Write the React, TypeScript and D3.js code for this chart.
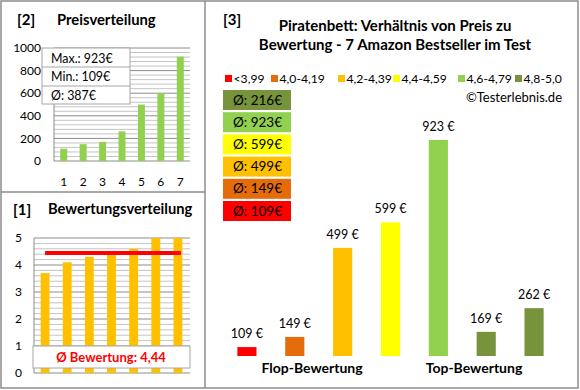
import * as React from 'react';
import * as d3 from 'd3';

// [2] Preisverteilung
const priceIdx = ['1', '2', '3', '4', '5', '6', '7'];
const prices = [109, 149, 169, 262, 499, 599, 923];
const priceTicks = [0, 200, 400, 600, 800, 1000];
const priceStats = ['Max.: 923€', 'Min.: 109€', 'Ø: 387€'];

// [1] Bewertungsverteilung
const ratings = [3.7, 4.1, 4.3, 4.4, 4.6, 5, 5];
const ratingTicks = [0, 1, 2, 3, 4, 5];
const ratingAvg = 4.44;
const ratingAvgLabel = 'Ø Bewertung: 4,44';

// [3] Preis zu Bewertung
const mainPrices = [109, 149, 499, 599, 923, 169, 262];
const mainColors = ['#FF0000', '#E46C0A', '#FFC000', '#FFFF00', '#92D050', '#77933C', '#77933C'];
const legendLabels = ['<3,99', '4,0-4,19', '4,2-4,39', '4,4-4,59', '4,6-4,79', '4,8-5,0'];
const legendColors = ['#FF0000', '#E46C0A', '#FFC000', '#FFFF00', '#92D050', '#77933C'];
const avgLabels = ['Ø: 216€', 'Ø: 923€', 'Ø: 599€', 'Ø: 499€', 'Ø: 149€', 'Ø: 109€'];
const avgColors = ['#77933C', '#92D050', '#FFFF00', '#FFC000', '#E46C0A', '#FF0000'];
const groups = ['Flop-Bewertung', 'Top-Bewertung'];

const FONT = 'Lato, "Open Sans", sans-serif';
const MAJOR = '#8c8c8c';
const MINOR = '#c4c4c4';

function PricePanel() {
    const x = d3.scaleBand().domain(priceIdx).range([54, 190]).paddingInner(0.64).paddingOuter(0.32);
    const y = d3.scaleLinear().domain([0, 1000]).range([161, 48]);
    const grid = d3.range(0, 1001, 40);
    return (
        <g>
            <text x={17} y={25} fontSize={15} fontWeight="bold">[2]</text>
            <text x={57} y={25} fontSize={14.8} fontWeight="bold">Preisverteilung</text>
            {grid.map(g => (
                <line key={g} x1={54} x2={190} y1={y(g)} y2={y(g)}
                    stroke={g % 200 === 0 ? MAJOR : MINOR} strokeWidth={1} />
            ))}
            <line x1={54} x2={54} y1={y(1000)} y2={y(0)} stroke={MAJOR} />
            {priceTicks.map(t => (
                <text key={t} x={41} y={y(t)} dy="0.35em" textAnchor="end" fontSize={12}>{t}</text>
            ))}
            {prices.map((v, i) => (
                <rect key={i} x={x(priceIdx[i])} y={y(v)} width={x.bandwidth()} height={y(0) - y(v)} fill="#92D050" />
            ))}
            {priceIdx.map(c => (
                <text key={c} x={x(c)! + x.bandwidth() / 2} y={186} textAnchor="middle" fontSize={12}>{c}</text>
            ))}
            <rect x={42} y={48} width={88} height={56} fill="#fff" stroke="#a6a6a6" />
            <line x1={42} x2={130} y1={67} y2={67} stroke="#a6a6a6" />
            <line x1={42} x2={130} y1={86} y2={86} stroke="#a6a6a6" />
            {priceStats.map((s, i) => (
                <text key={s} x={51} y={62.5 + i * 18.5} fontSize={12.4}>{s}</text>
            ))}
        </g>
    );
}

function RatingPanel() {
    const idx = ratings.map((_, i) => String(i));
    const x = d3.scaleBand().domain(idx).range([34, 189]).paddingInner(0.6).paddingOuter(0.3);
    const y = d3.scaleLinear().domain([0, 5]).range([373, 238]);
    const grid = d3.range(0, 26).map(k => k / 5);
    const first = x('0')! + x.bandwidth() / 2;
    const last = x(String(ratings.length - 1))! + x.bandwidth() / 2 + 3;
    return (
        <g>
            <text x={13} y={215} fontSize={15} fontWeight="bold">[1]</text>
            <text x={48} y={214} fontSize={14.7} fontWeight="bold">Bewertungsverteilung</text>
            {grid.map(g => (
                <line key={g} x1={34} x2={190} y1={y(g)} y2={y(g)}
                    stroke={Math.abs(g - Math.round(g)) < 1e-6 ? MAJOR : MINOR} />
            ))}
            <line x1={34} x2={34} y1={y(5)} y2={y(0)} stroke={MAJOR} />
            {ratingTicks.map(t => (
                <text key={t} x={22} y={y(t)} dy="0.35em" textAnchor="end" fontSize={12}>{t}</text>
            ))}
            {ratings.map((v, i) => (
                <rect key={i} x={x(idx[i])} y={y(v)} width={x.bandwidth()} height={y(0) - y(v)} fill="#FFC000" />
            ))}
            <line x1={first} x2={last} y1={y(ratingAvg)} y2={y(ratingAvg)} stroke="#FF0000" strokeWidth={4} />
            <rect x={33} y={346} width={157} height={22} fill="#fff" stroke="#a6a6a6" />
            <text x={111} y={362} textAnchor="middle" fontSize={13} fontWeight="bold" fill="#FF0000">{ratingAvgLabel}</text>
        </g>
    );
}

function MainPanel() {
    const idx = mainPrices.map((_, i) => String(i));
    const x = d3.scaleBand().domain(idx).range([223, 558]).paddingInner(0.6).paddingOuter(0.3);
    const y = d3.scaleLinear().domain([74, 923]).range([356, 140]);
    const legendX = [225, 271, 338, 393, 458, 515];
    return (
        <g>
            <text x={223} y={25} fontSize={15} fontWeight="bold">[3]</text>
            <text x={395} y={31} textAnchor="middle" fontSize={15} fontWeight="bold">Piratenbett: Verhältnis von Preis zu</text>
            <text x={395} y={50} textAnchor="middle" fontSize={15} fontWeight="bold">Bewertung - 7 Amazon Bestseller im Test</text>
            {legendLabels.map((l, i) => (
                <g key={l}>
                    <rect x={legendX[i]} y={75} width={7} height={7} fill={legendColors[i]} />
                    <text x={legendX[i] + 8.5} y={82.5} fontSize={12.2}>{l}</text>
                </g>
            ))}
            <text x={562} y={102} textAnchor="end" fontSize={13}>©Testerlebnis.de</text>
            {avgLabels.map((l, i) => (
                <g key={l}>
                    <rect x={223} y={90 + i * 22.2} width={68} height={20} fill={avgColors[i]} />
                    <text x={233} y={90 + i * 22.2 + 14.5} fontSize={13.5}>{l}</text>
                </g>
            ))}
            {mainPrices.map((v, i) => (
                <g key={i}>
                    <rect x={x(idx[i])} y={y(v)} width={x.bandwidth()} height={y(74) - y(v)} fill={mainColors[i]} />
                    <text x={x(idx[i])! + x.bandwidth() / 2} y={y(v) - 9} textAnchor="middle" fontSize={12.5}>{`${v} €`}</text>
                </g>
            ))}
            <text x={312} y={373} textAnchor="middle" fontSize={14} fontWeight="bold">{groups[0]}</text>
            <text x={474} y={373} textAnchor="middle" fontSize={14} fontWeight="bold">{groups[1]}</text>
        </g>
    );
}

export default function App() {
    return (
        <svg width={580} height={390} style={{ position: 'absolute', left: 0, top: 0 }} fontFamily={FONT}>
            <rect x={1} y={1} width={577} height={387} fill="#fff" stroke="#8c8c8c" strokeWidth={1.5} />
            <line x1={205} x2={205} y1={1} y2={388} stroke="#8c8c8c" strokeWidth={1.5} />
            <line x1={1} x2={205} y1={192} y2={192} stroke="#8c8c8c" strokeWidth={1.5} />
            <PricePanel />
            <RatingPanel />
            <MainPanel />
        </svg>
    );
}
